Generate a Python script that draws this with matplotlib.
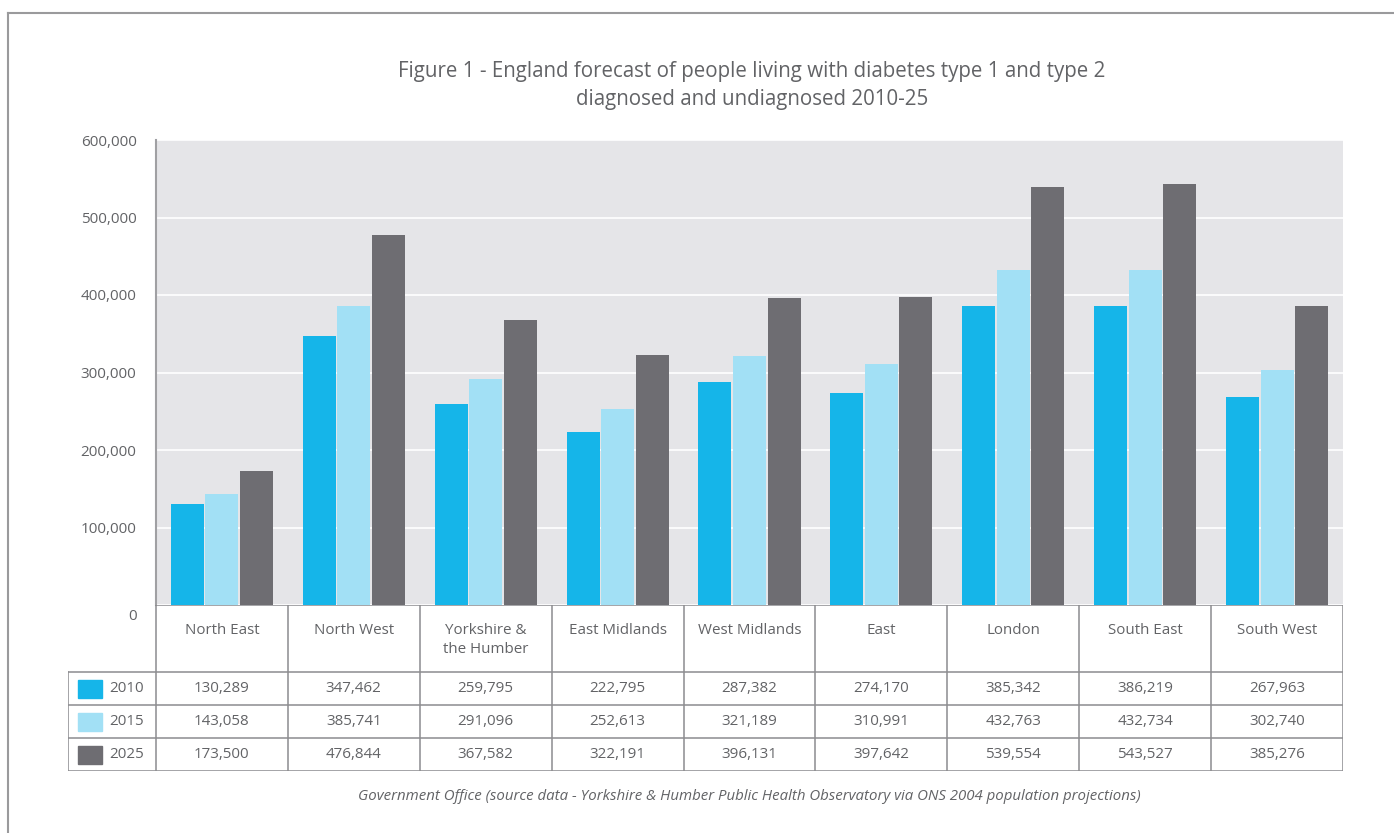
import matplotlib.pyplot as plt
import matplotlib.transforms as mtransforms
from matplotlib.patches import Rectangle
from matplotlib.lines import Line2D

regions = ["North East", "North West", "Yorkshire &\nthe Humber", "East Midlands",
           "West Midlands", "East", "London", "South East", "South West"]
years = ["2010", "2015", "2025"]
v2010 = [130289, 347462, 259795, 222795, 287382, 274170, 385342, 386219, 267963]
v2015 = [143058, 385741, 291096, 252613, 321189, 310991, 432763, 432734, 302740]
v2025 = [173500, 476844, 367582, 322191, 396131, 397642, 539554, 543527, 385276]
yticks = [0, 100000, 200000, 300000, 400000, 500000, 600000]

colors = ["#15b5e9", "#a2e0f5", "#6e6d72"]
txt = "#626366"
grid_c = "#8c8c8f"
W, H = 1394, 833
plt.rcParams['font.family'] = ['Open Sans', 'DejaVu Sans']


def px_axes(fig, x0, y0, x1, y1):
    return fig.add_axes([x0 / W, 1 - y1 / H, (x1 - x0) / W, (y1 - y0) / H])


fig = plt.figure(figsize=(W / 100, H / 100), dpi=100)

# outer frame (top and left edges only)
fig.add_artist(Line2D([8 / W, 1], [1 - 13 / H, 1 - 13 / H], color="#9a9a9c", lw=1.5))
fig.add_artist(Line2D([8 / W, 8 / W], [0, 1 - 13 / H], color="#9a9a9c", lw=1.5))

fig.text(752 / W, 1 - 72 / H,
         "Figure 1 - England forecast of people living with diabetes type 1 and type 2",
         ha="center", va="center", fontsize=14.8, color=txt)
fig.text(752 / W, 1 - 99 / H, "diagnosed and undiagnosed 2010-25",
         ha="center", va="center", fontsize=14.8, color=txt)

# bar chart
ax = px_axes(fig, 156, 140, 1343, 605)
ax.set_facecolor("#e5e5e8")
n = len(regions)
bw = 0.25
for k, vals in enumerate([v2010, v2015, v2025]):
    xs = [i + 0.5 + (k - 1) * 0.262 for i in range(n)]
    ax.bar(xs, vals, width=bw, color=colors[k], zorder=3)
ax.set_xlim(0, n)
ax.set_ylim(0, 600000)
ax.set_yticks(yticks)
ax.set_yticklabels([f"{t:,}" for t in yticks], color=txt, fontsize=11)
ax.tick_params(axis="y", length=0, pad=14)
ax.set_xticks([])
ax.grid(axis="y", color="white", lw=1.2, zorder=1)
for s in ["top", "right", "bottom"]:
    ax.spines[s].set_visible(False)
ax.spines["left"].set_color("#a0a0a3")
ax.spines["left"].set_linewidth(1.5)
# the zero label sits a little below its line
zero = ax.get_yticklabels()[0]
zero.set_transform(zero.get_transform() +
                   mtransforms.ScaledTranslation(0, -0.1, fig.dpi_scale_trans))

# data table underneath
tb = px_axes(fig, 68, 605, 1343, 771)
left = -88 / 132
tb.set_xlim(left, n)
tb.set_ylim(166, 0)
tb.axis("off")
row_y = [67, 100, 133, 166]
lc = dict(color=grid_c, lw=1.1)
tb.plot([0, n], [0, 0], **lc)
for i in range(n + 1):
    tb.plot([i, i], [0, 166], **lc)
tb.plot([left, left], [67, 166], **lc)
for y in row_y:
    tb.plot([left, n], [y, y], **lc)
for i, r in enumerate(regions):
    tb.text(i + 0.5, 18, r, ha="center", va="top", fontsize=10.9, color=txt,
            linespacing=1.35)
for k, (yr, vals) in enumerate(zip(years, [v2010, v2015, v2025])):
    yc = (row_y[k] + row_y[k + 1]) / 2
    tb.add_patch(Rectangle((left + 10 / 132, yc - 9), 24 / 132, 18, color=colors[k]))
    tb.text(left + 59 / 132, yc, yr, ha="center", va="center", fontsize=10.9, color=txt)
    for i, v in enumerate(vals):
        tb.text(i + 0.5, yc, f"{v:,}", ha="center", va="center", fontsize=10.9, color=txt)

fig.text(749 / W, 1 - 797 / H,
         "Government Office (source data - Yorkshire & Humber Public Health Observatory via ONS 2004 population projections)",
         ha="center", va="center", fontsize=10.8, style="italic", color=txt)

fig.savefig("out.png", dpi=100)
